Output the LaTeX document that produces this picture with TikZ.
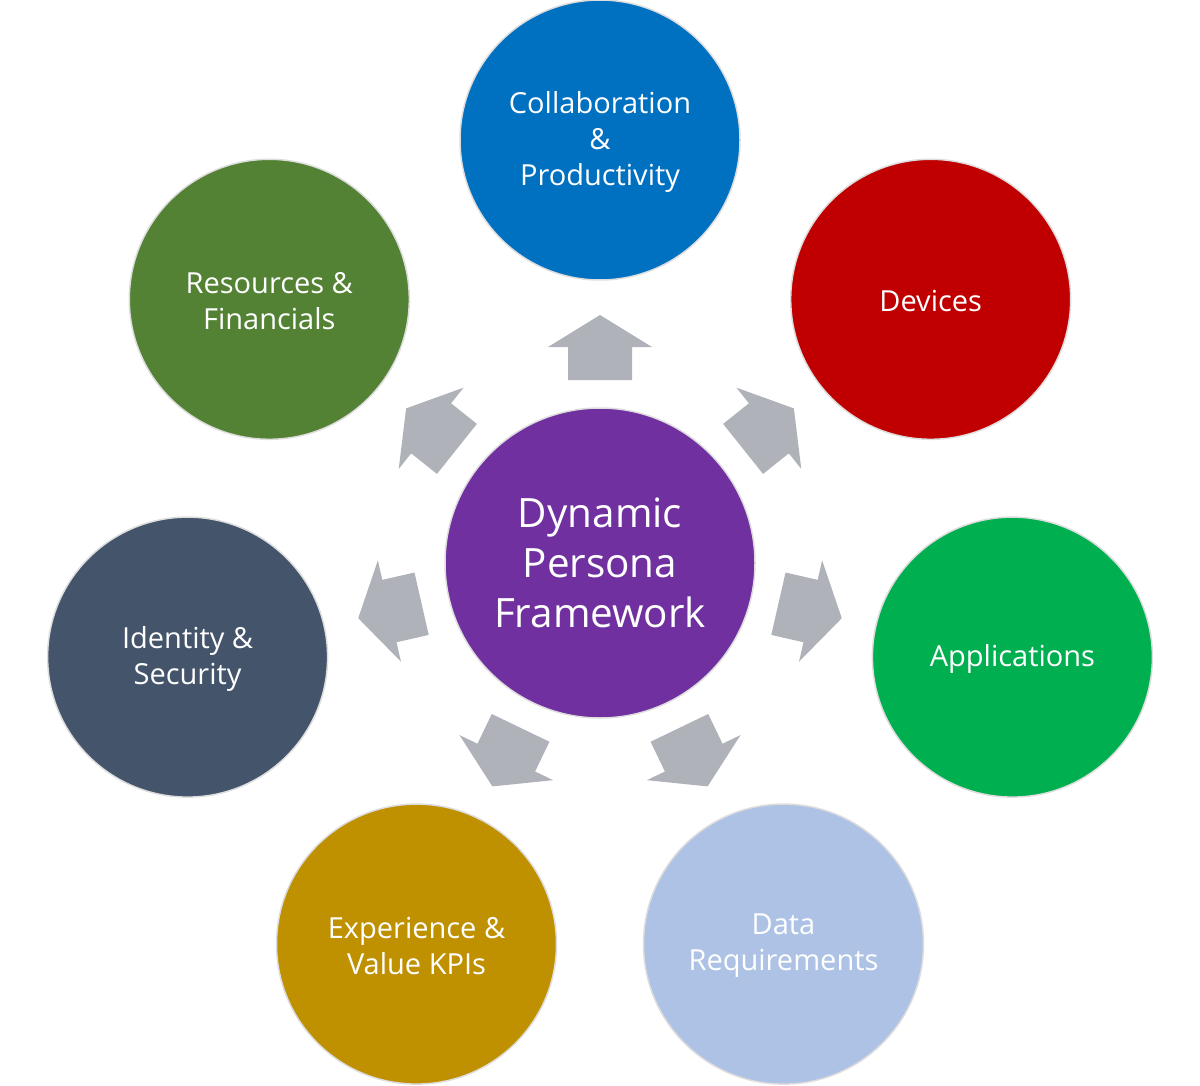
\documentclass[tikz,border=0pt]{standalone}
\usepackage{fontspec}
\setmainfont{Open Sans}
\definecolor{cpurple}{HTML}{7030A0}
\definecolor{cblue}{HTML}{0070C0}
\definecolor{cred}{HTML}{C00000}
\definecolor{cgreen}{HTML}{00B050}
\definecolor{clight}{HTML}{ADC2E4}
\definecolor{cgold}{HTML}{BF9000}
\definecolor{cslate}{HTML}{44546A}
\definecolor{cdgreen}{HTML}{548235}
\definecolor{carrow}{HTML}{AFB2B9}
\definecolor{cborder}{HTML}{DDDDDD}
\begin{document}
\begin{tikzpicture}[x=0.5pt,y=-0.5pt,
  outer/.style={circle,fill=#1,draw=cborder,line width=0.75pt,minimum size=140pt,inner sep=0pt},
  lbl/.style={text=white,align=center,font=\fontsize{14.5}{18}\selectfont,yshift=-0.9pt,inner sep=0pt},
  hub/.style={circle,fill=cpurple,draw=cborder,line width=0.75pt,minimum size=155pt,inner sep=0pt,
    text=white,align=center,font=\fontsize{20.2}{25}\selectfont},
  blockarrow/.style={fill=carrow,draw=none}]
\useasboundingbox (0,0) rectangle (1200,1086);
\node[hub] (c) at (600,563) {Dynamic\\Persona\\Framework};
\node[outer=cblue, label={[lbl]center:Collaboration\\\&\\Productivity}] (n0) at (600,140) {};
\node[outer=cred, label={[lbl]center:Devices}] (n1) at (930.7,299.3) {};
\node[outer=cgreen, label={[lbl]center:Applications}] (n2) at (1012.4,657.1) {};
\node[outer=clight, label={[lbl]center:Data\\Requirements}] (n3) at (783.5,944.1) {};
\node[outer=cgold, label={[lbl]center:Experience \&\\Value KPIs}] (n4) at (416.5,944.1) {};
\node[outer=cslate, label={[lbl]center:Identity \&\\Security}] (n5) at (187.6,657.1) {};
\node[outer=cdgreen, label={[lbl]center:Resources \&\\Financials}] (n6) at (269.3,299.3) {};
\foreach \k in {0,...,6}{
  \begin{scope}[shift={(c.center)},rotate={90-\k*360/7}]
    \fill[blockarrow] (183,-32) -- (216,-32) -- (216,-52) -- (248,0) -- (216,52) -- (216,32) -- (183,32) -- cycle;
  \end{scope}
}
\end{tikzpicture}
\end{document}
